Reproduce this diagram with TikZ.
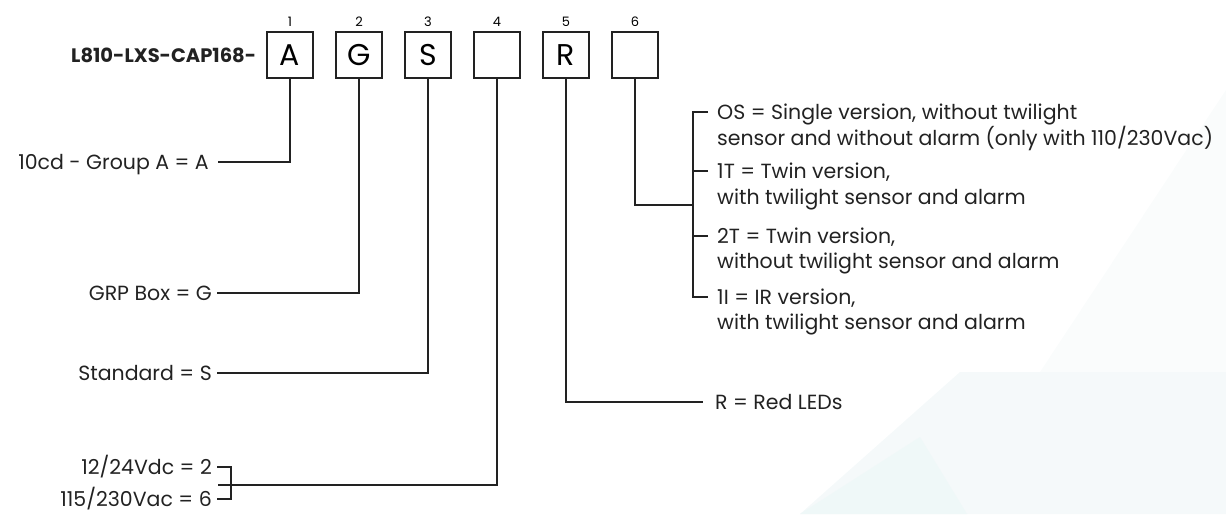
\documentclass[tikz,border=0pt]{standalone}
\usepackage{fontspec}
\setmainfont{Poppins}
\usepackage{tikz}
\usetikzlibrary{positioning}
\definecolor{Ink}{HTML}{222222}
\definecolor{Haze}{HTML}{F5F9FA}
\definecolor{Mist}{HTML}{EFF8F8}
\definecolor{Veil}{HTML}{FAFCFC}

\begin{document}
\begin{tikzpicture}[x=1pt,y=-1pt,
  digit/.style={draw=Ink,line width=1.3pt,minimum size=46pt,inner sep=0pt,font=\fontsize{30}{30}\selectfont},
  idx/.style={font=\fontsize{13}{13}\selectfont,inner sep=0pt},
  txt/.style={font=\fontsize{20.5}{20.5}\selectfont,text=Ink,inner sep=0pt,text height=14.2pt,text depth=0pt},
  wire/.style={draw=Ink,line width=1.3pt}]
\useasboundingbox (0,0) rectangle (1226,514);
% Background
\fill[Veil] (1040,372) -- (1226,90) -- (1226,372) -- cycle;
\fill[Haze] (800,514) -- (960,372) -- (1226,372) -- (1226,514) -- cycle;
\fill[Mist] (800,514) -- (920,437) -- (967,514) -- cycle;
% Code boxes
\foreach \i/\t in {1/A,2/G,3/S,4/,5/R,6/}
  \node[digit] (b\i) at ({290+69*(\i-1)},55) {\t};
\foreach \i in {1,...,6}
  \node[idx,above=5pt of b\i] (n\i) {\i};
\node[font=\fontsize{19.5}{19.5}\bfseries,text=Ink,inner sep=0pt,left=10pt of b1] (code) {L810-LXS-CAP168-};
% Left options
\node[txt,anchor=east] (la) at (209,162) {10cd - Group A = A};
\node[txt,anchor=east] (lg) at (212,293) {GRP Box = G};
\node[txt,anchor=east] (ls) at (212,373) {Standard = S};
\node[txt,anchor=east] (lv1) at (212,467) {12/24Vdc = 2};
\node[txt,anchor=east] (lv2) at (212,499) {115/230Vac = 6};
\coordinate (jv) at (218,485);
% Right options
\node[txt,anchor=west] (os) at (717,112) {OS = Single version, without twilight};
\node[txt,anchor=west] (osb) at (717,138) {sensor and without alarm (only with 110/230Vac)};
\node[txt,anchor=west] (tw1) at (717,171) {1T = Twin version,};
\node[txt,anchor=west] (tw1b) at (717,197) {with twilight sensor and alarm};
\node[txt,anchor=west] (tw2) at (717,236) {2T = Twin version,};
\node[txt,anchor=west] (tw2b) at (717,261) {without twilight sensor and alarm};
\node[txt,anchor=west] (ir) at (717,297) {1I = IR version,};
\node[txt,anchor=west] (irb) at (717,322) {with twilight sensor and alarm};
\node[txt,anchor=west] (red) at (715,402) {R = Red LEDs};
\coordinate (j6) at (693,205);
% Connectors
\draw[wire] (b1.south) |- ([xshift=9pt]la.east);
\draw[wire] (b2.south) |- ([xshift=5pt]lg.east);
\draw[wire] (b3.south) |- ([xshift=5pt]ls.east);
\draw[wire] (b4.south) |- (jv);
\draw[wire] ([xshift=5pt]lv1.east) -| ([xshift=19pt]lv2.east) -- ([xshift=5pt]lv2.east);
\draw[wire] (b5.south) |- ([xshift=-12pt]red.west);
\draw[wire] (b6.south) |- (j6);
\draw[wire] ([xshift=-9pt]os.west) -| ([xshift=-24pt]ir.west) -- ([xshift=-9pt]ir.west);
\draw[wire] ([xshift=-9pt]tw1.west) -- ([xshift=-24pt]tw1.west);
\draw[wire] ([xshift=-9pt]tw2.west) -- ([xshift=-24pt]tw2.west);
\end{tikzpicture}
\end{document}
